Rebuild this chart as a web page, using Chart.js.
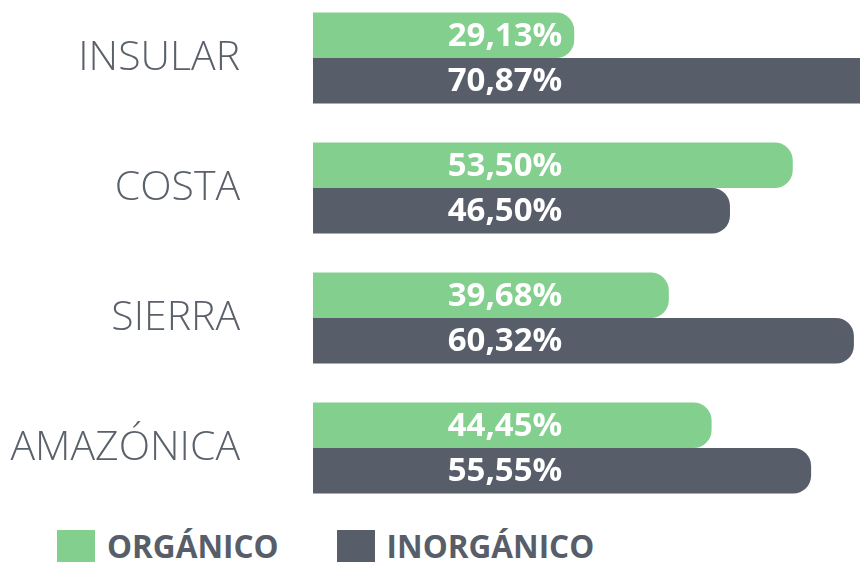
<!DOCTYPE html>
<html>
<head>
<meta charset="utf-8">
<script src="https://cdn.jsdelivr.net/npm/chart.js@4"></script>
<style>
  html, body { margin: 0; padding: 0; background: #ffffff; }
  #wrap { position: relative; width: 860px; height: 562px; overflow: hidden; }
  #residuos { display: block; margin-top: -7px; }
  #legend { display: flex; align-items: center; height: 47px; padding-left: 57px; margin-top: 9px; }
  .item { display: flex; align-items: center; margin-right: 58px; }
  .box { width: 38px; height: 32px; margin-right: 12px; }
  .txt { font-family: 'Open Sans', sans-serif; font-weight: 700; font-size: 31.5px; color: #575e69; }
</style>
</head>
<body>
<div id="wrap">
  <canvas id="residuos" width="860" height="520"></canvas>
  <div id="legend"></div>
</div>
<script>
// datos por región (%)
const regiones = ['INSULAR', 'COSTA', 'SIERRA', 'AMAZÓNICA'];
const organico = [29.13, 53.50, 39.68, 44.45];
const inorganico = [70.87, 46.50, 60.32, 55.55];

const verde = '#82cf8e';
const gris = '#575e69';

// etiquetas blancas dentro de cada barra
const etiquetas = {
    id: 'etiquetas',
    afterDatasetsDraw(chart) {
        const ctx = chart.ctx;
        const area = chart.chartArea;
        ctx.save();
        ctx.fillStyle = '#ffffff';
        ctx.font = "bold 33px 'Open Sans', sans-serif";
        ctx.textAlign = 'center';
        ctx.textBaseline = 'middle';
        chart.data.datasets.forEach((ds, i) => {
            chart.getDatasetMeta(i).data.forEach((bar, j) => {
                const txt = ds.data[j].toFixed(2).replace('.', ',') + '%';
                ctx.fillText(txt, area.left + 192, bar.y + 1);
            });
        });
        ctx.restore();
    }
};

// leyenda en html
const leyenda = {
    id: 'leyenda',
    afterUpdate(chart) {
        const cont = document.getElementById('legend');
        cont.innerHTML = '';
        chart.data.datasets.forEach(ds => {
            const item = document.createElement('div');
            item.className = 'item';
            const box = document.createElement('span');
            box.className = 'box';
            box.style.background = ds.backgroundColor;
            const txt = document.createElement('span');
            txt.className = 'txt';
            txt.textContent = ds.label;
            item.appendChild(box);
            item.appendChild(txt);
            cont.appendChild(item);
        });
    }
};

const ctx = document.getElementById('residuos').getContext('2d');
const chart = new Chart(ctx, {
    type: 'bar',
    data: {
        labels: regiones,
        datasets: [
            {
                label: 'ORGÁNICO',
                data: organico,
                backgroundColor: verde,
                borderRadius: 18,
                borderSkipped: 'start'
            },
            {
                label: 'INORGÁNICO',
                data: inorganico,
                backgroundColor: gris,
                borderRadius: 18,
                borderSkipped: 'start'
            }
        ]
    },
    options: {
        indexAxis: 'y',
        responsive: false,
        animation: false,
        categoryPercentage: 0.7,
        barPercentage: 1.0,
        layout: { padding: 0 },
        scales: {
            x: {
                display: false,
                min: 0,
                max: 61
            },
            y: {
                grid: { display: false, drawTicks: false },
                border: { display: false },
                ticks: {
                    padding: 73,
                    color: '#5a616b',
                    font: { family: 'Open Sans', size: 41, weight: '300' }
                },
                afterFit(scale) {
                    scale.width = 313;
                    scale.paddingTop = 0;
                    scale.paddingBottom = 0;
                }
            }
        },
        plugins: {
            legend: { display: false },
            tooltip: { enabled: false }
        }
    },
    plugins: [etiquetas, leyenda]
});
</script>
</body>
</html>
